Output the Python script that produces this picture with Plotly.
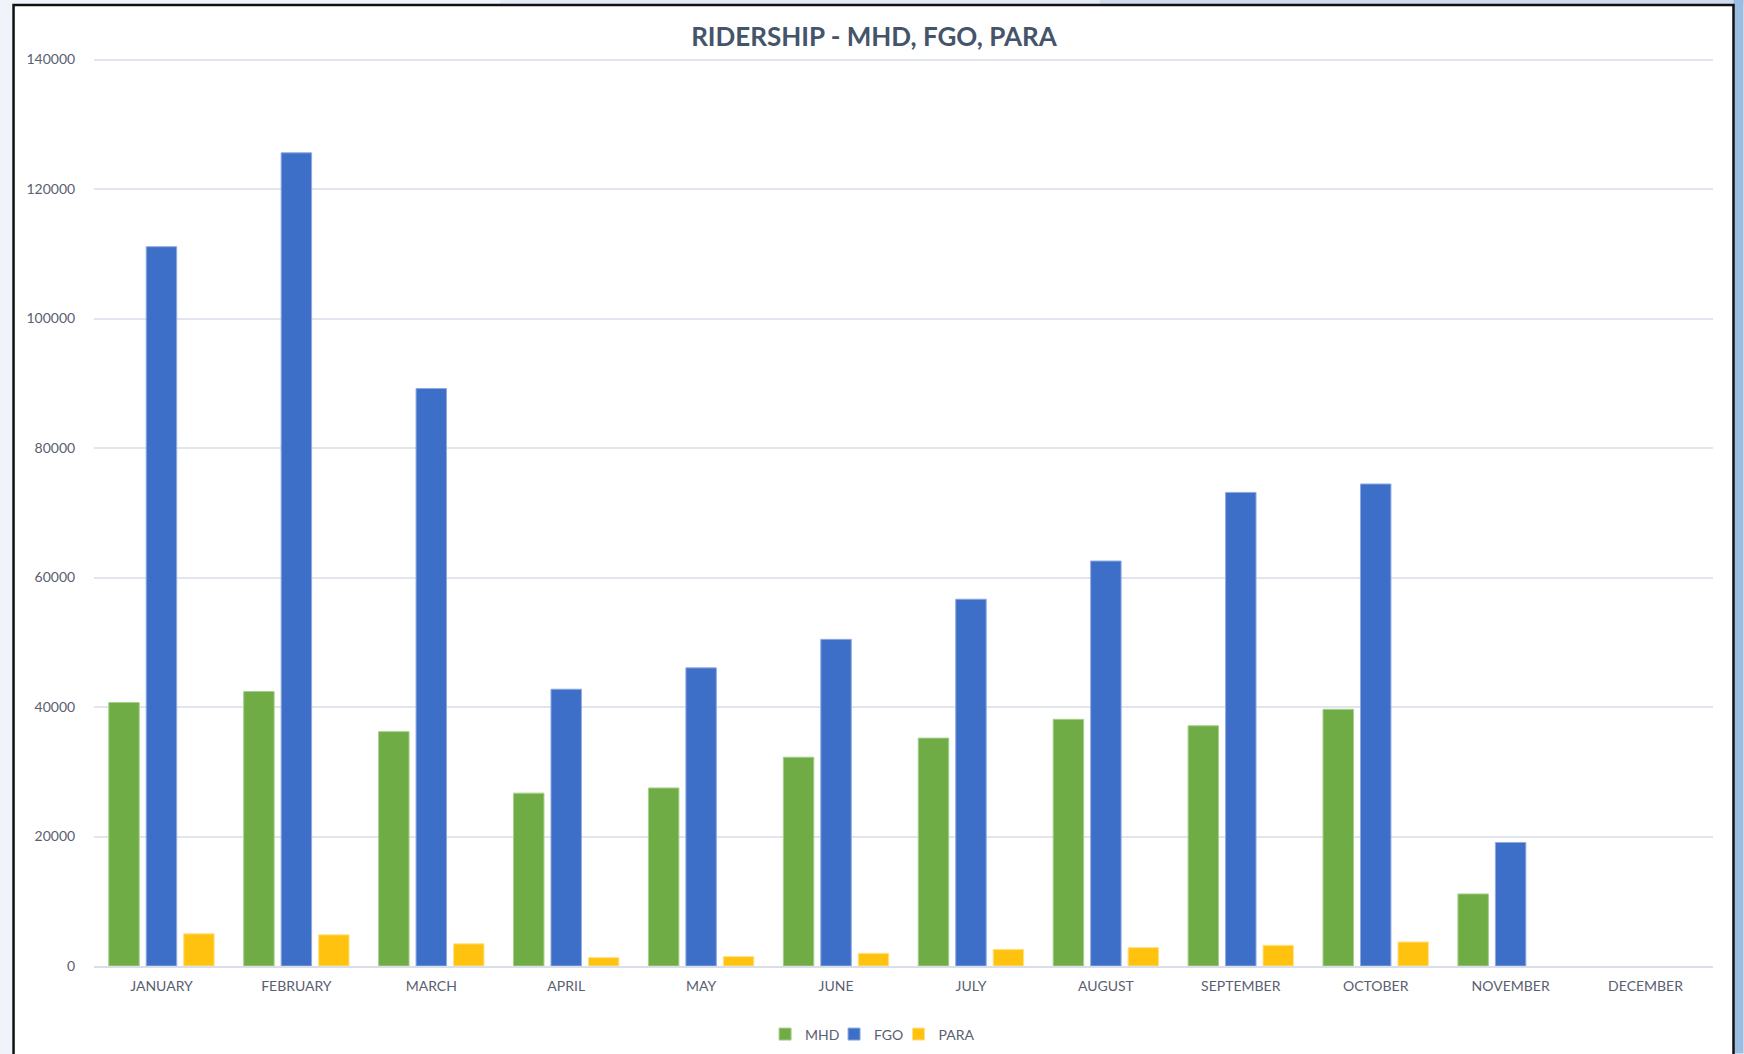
import plotly.graph_objects as go

months = ["JANUARY", "FEBRUARY", "MARCH", "APRIL", "MAY", "JUNE", "JULY",
          "AUGUST", "SEPTEMBER", "OCTOBER", "NOVEMBER", "DECEMBER"]
mhd = [40700, 42400, 36200, 26700, 27500, 32250, 35200, 38100, 37100, 39650, 11130, None]
fgo = [111100, 125600, 89200, 42750, 46050, 50450, 56650, 62550, 73150, 74450, 19080, None]
para = [4970, 4820, 3430, 1300, 1450, 1960, 2570, 2840, 3200, 3710, None, None]
y_ticks = [0, 20000, 40000, 60000, 80000, 100000, 120000, 140000]

W, H = 1744, 1054
Y_MAX = 140400
L, R, B = 93.5, 1713.5, 966.5
T = B - 906.5 * Y_MAX / 140000
FONT = "Lato, 'Open Sans', sans-serif"
TICK = "#596070"


def px(x):
    return (x - L) / (R - L)


def py(y):
    return (B - y) / (B - T)


fig = go.Figure()
series = [
    ("MHD", mhd, "#6fac45", "#a6cf8a", "legend", 765),
    ("FGO", fgo, "#3e6fc8", "#8eaadf", "legend2", 834),
    ("PARA", para, "#ffc30f", "#ffe18a", "legend3", 898.5),
]
legends = {}
for name, vals, col, lcol, lg, lx in series:
    fig.add_trace(go.Bar(
        x=months, y=vals, name=name, legend=lg,
        marker=dict(color=col, line=dict(color=lcol, width=1)),
    ))
    legends[lg] = dict(orientation="h", x=px(lx), xanchor="left",
                       y=py(1035), yanchor="middle",
                       font=dict(family=FONT, size=14, color=TICK),
                       bgcolor="rgba(0,0,0,0)", itemwidth=30)

shapes = [
    dict(type="rect", xref="paper", yref="paper", layer="below",
         x0=px(500), x1=px(W), y0=py(5), y1=py(0),
         fillcolor="#e2ebf6", line=dict(width=0)),
    dict(type="rect", xref="paper", yref="paper", layer="below",
         x0=px(1100), x1=px(W), y0=py(5), y1=py(0),
         fillcolor="#ccdcee", line=dict(width=0)),
    dict(type="rect", xref="paper", yref="paper", layer="below",
         x0=px(1734), x1=px(W), y0=py(H), y1=py(0),
         fillcolor="#9bbde2", line=dict(width=0)),
    dict(type="rect", xref="paper", yref="paper", layer="below",
         x0=px(13), x1=px(1734), y0=py(H + 10), y1=py(5.5),
         fillcolor="white", line=dict(color="#111111", width=2.5)),
]

fig.update_layout(
    width=W, height=H,
    autosize=False,
    margin=dict(l=L, r=W - R, t=T, b=H - B, pad=0, autoexpand=False),
    paper_bgcolor="#f0f4fa",
    plot_bgcolor="rgba(0,0,0,0)",
    font=dict(family=FONT, size=14, color=TICK),
    title=dict(text="<b>RIDERSHIP - MHD, FGO, PARA</b>",
               x=874 / W, xanchor="center", y=1 - 37 / H, yanchor="middle",
               font=dict(family=FONT, size=26, color="#44546a")),
    barmode="group",
    bargap=0.167,
    bargroupgap=0.187,
    showlegend=True,
    shapes=shapes,
    xaxis=dict(
        showgrid=False, showline=True, linecolor="#d9dee8", linewidth=1.5,
        ticks="outside", ticklen=6, tickcolor="rgba(0,0,0,0)",
        tickfont=dict(family=FONT, size=14, color=TICK),
        zeroline=False, fixedrange=True, automargin=False,
    ),
    yaxis=dict(
        range=[0, Y_MAX], tickvals=y_ticks,
        ticktext=[str(v) for v in y_ticks],
        showgrid=True, gridcolor="#e1e5ee", gridwidth=1.5,
        showline=False, zeroline=False,
        ticks="outside", ticklen=15, tickcolor="rgba(0,0,0,0)",
        tickfont=dict(family=FONT, size=14, color=TICK),
        fixedrange=True, automargin=False,
    ),
    **legends,
)

fig.write_html(
    "out.html",
    config={"displayModeBar": False},
    post_script="document.body.style.margin='0';document.body.style.overflow='hidden';",
)
